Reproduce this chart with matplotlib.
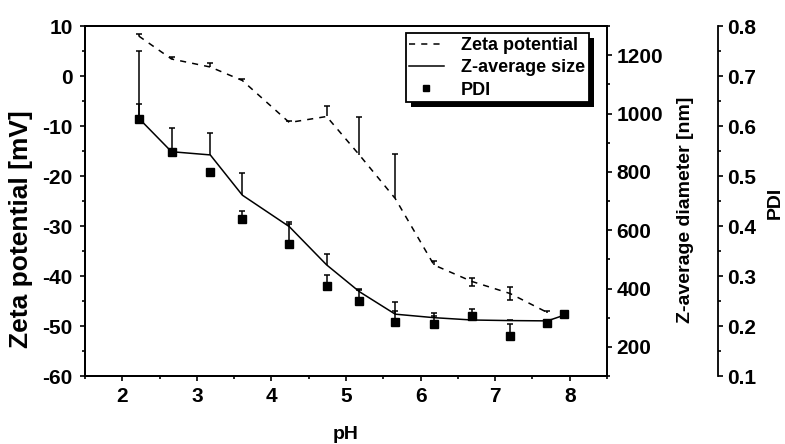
import matplotlib
matplotlib.use('Agg')
import matplotlib.pyplot as plt
from matplotlib.ticker import MultipleLocator, FormatStrFormatter
from matplotlib.lines import Line2D
from matplotlib.patches import Rectangle
import numpy as np

# ---------------- data ----------------
pH = [2.22, 2.66, 3.18, 3.61, 4.24, 4.74, 5.18, 5.66, 6.18, 6.69, 7.20, 7.70, 7.92]

zeta_pH = [2.22, 2.66, 3.18, 3.61, 4.24, 4.74, 5.18, 5.66, 6.18, 6.69, 7.20, 7.70]
zeta = [8.0, 3.4, 1.8, -0.9, -9.3, -8.1, -15.8, -24.5, -37.8, -41.1, -43.5, -47.3]
zeta_err_hi = [0.3, 0.3, 0.8, 0.3, 0.3, 2.0, 7.6, 8.9, 0.9, 0.8, 1.3, 0.4]
zeta_err_lo = [0.0, 0.0, 0.0, 0.0, 0.0, 0.0, 0.0, 0.0, 0.0, 0.8, 1.3, 0.0]

zsize = [984, 869, 858, 720, 612, 481, 389, 312, 300, 292, 290, 289, 308]
zsize_err = [230, 82, 74, 75, 10, 38, 8, 10, 5, 3, 3, 3, 5]

pdi = [0.615, 0.549, 0.509, 0.414, 0.364, 0.280, 0.250, 0.209, 0.205, 0.220, 0.181, 0.207, 0.225]
pdi_err = [0.029, 0.005, 0.005, 0.017, 0.045, 0.022, 0.023, 0.040, 0.022, 0.015, 0.023, 0.005, 0.005]

labels = ["Zeta potential", "Z-average size", "PDI"]
x_label = "pH"
y1_label = "Zeta potential [mV]"
y2_label = "Z-average diameter [nm]"
y3_label = "PDI"

# ---------------- style ----------------
plt.rcParams['font.family'] = ['Liberation Sans', 'DejaVu Sans']
plt.rcParams['font.weight'] = 'bold'
FS_TICK = 15
FS_LAB = 14

fig = plt.figure(figsize=(7.85, 4.44), dpi=100)
L, R, T, B = 85, 607, 26, 376
W, H = R - L, B - T
ax1 = fig.add_axes([L/785, 1-B/444, W/785, H/444])
ax2 = ax1.twinx()
ax3 = ax1.twinx()
ax3.spines['right'].set_position(('outward', (718-607)*72/100))

for ax in (ax1, ax2, ax3):
    for s in ax.spines.values():
        s.set_linewidth(1.3)
    ax.tick_params(which='both', direction='out', width=1.2, labelsize=FS_TICK, colors='k')
    ax.tick_params(which='major', length=3.8)
    ax.tick_params(which='minor', length=2.2)

ax1.set_xlim(1.5, 8.5)
ax1.set_ylim(-60, 10)
ax2.set_ylim(100, 1300)
ax3.set_ylim(0.1, 0.8)

ax1.xaxis.set_major_locator(MultipleLocator(1))
ax1.xaxis.set_minor_locator(MultipleLocator(0.5))
ax1.yaxis.set_major_locator(MultipleLocator(10))
ax1.yaxis.set_minor_locator(MultipleLocator(5))
ax2.yaxis.set_major_locator(MultipleLocator(200))
ax2.yaxis.set_minor_locator(MultipleLocator(100))
ax3.yaxis.set_major_locator(MultipleLocator(0.1))
ax3.yaxis.set_minor_locator(MultipleLocator(0.05))
ax1.tick_params(axis='x', which='both', top=False, pad=4)
ax1.tick_params(axis='y', which='both', right=False, pad=5)
ax2.tick_params(axis='y', pad=3)
ax3.tick_params(axis='y', pad=3)

ax1.yaxis.set_major_formatter(FormatStrFormatter('%d'))
ax2.yaxis.set_major_formatter(FormatStrFormatter('%d'))
ax3.yaxis.set_major_formatter(FormatStrFormatter('%.1f'))
for ax in (ax1, ax2, ax3):
    for t in ax.get_yticklabels() + ax.get_xticklabels():
        t.set_fontweight('bold')

ax1.set_xlabel(x_label, fontsize=FS_LAB, fontweight='bold')
ax1.xaxis.set_label_coords(0.5, (B-426)/H)
ax1.set_ylabel(y1_label, fontsize=19, fontweight='bold')
ax1.yaxis.set_label_coords((33-L)/W, (B-229)/H)
ax2.set_ylabel(y2_label, fontsize=FS_LAB, fontweight='bold')
ax2.yaxis.set_label_coords((677-L)/W, (B-210)/H)
ax3.set_ylabel(y3_label, fontsize=FS_LAB, fontweight='bold')
ax3.yaxis.set_label_coords((767-L)/W, (B-203)/H)

LW = 1.1
CAPMS = 4.5


def err_bars(ax, x, y, lo, hi):
    x = np.asarray(x, float); y = np.asarray(y, float)
    lo = np.asarray(lo, float); hi = np.asarray(hi, float)
    ax.vlines(x, y - lo, y + hi, colors='k', linewidth=LW, zorder=3)
    ax.plot(x, y + hi, ls='none', marker='_', ms=CAPMS, mew=LW, color='k', zorder=3)
    m = lo > 0
    ax.plot(x[m], (y - lo)[m], ls='none', marker='_', ms=CAPMS, mew=LW, color='k', zorder=3)


# zeta potential
ax1.plot(zeta_pH, zeta, color='k', lw=LW, linestyle=(0, (4, 4)), zorder=2)
err_bars(ax1, zeta_pH, zeta, zeta_err_lo, zeta_err_hi)

# Z-average
ax2.plot(pH, zsize, color='k', lw=LW, linestyle='-', zorder=2)
err_bars(ax2, pH, zsize, np.zeros(len(pH)), zsize_err)

# PDI
err_bars(ax3, pH, pdi, np.zeros(len(pH)), pdi_err)
ax3.plot(pH, pdi, ls='none', marker='s', ms=6, color='k', zorder=4)

handles = [Line2D([], [], color='k', lw=LW, linestyle=(0, (4, 4))),
           Line2D([], [], color='k', lw=LW, linestyle='-'),
           Line2D([], [], color='k', ls='none', marker='s', ms=5)]
leg = ax3.legend(handles, labels, loc='upper left',
                 bbox_to_anchor=((405.7-L)/W, (B-33.3)/H),
                 frameon=True, fancybox=False, framealpha=1, edgecolor='k',
                 prop={'weight': 'bold', 'size': 13}, borderpad=0.2,
                 labelspacing=0.3, handlelength=1.9, handletextpad=0.95,
                 borderaxespad=0)
leg.get_frame().set_linewidth(1.3)
leg.set_zorder(10)

fig.canvas.draw()
bb = leg.get_window_extent()
sh = Rectangle((bb.x0 + 5, bb.y0 - 5), bb.width, bb.height, transform=None,
               facecolor='k', edgecolor='none', zorder=9)
ax3.add_artist(sh)

fig.savefig('out.png', dpi=100)
